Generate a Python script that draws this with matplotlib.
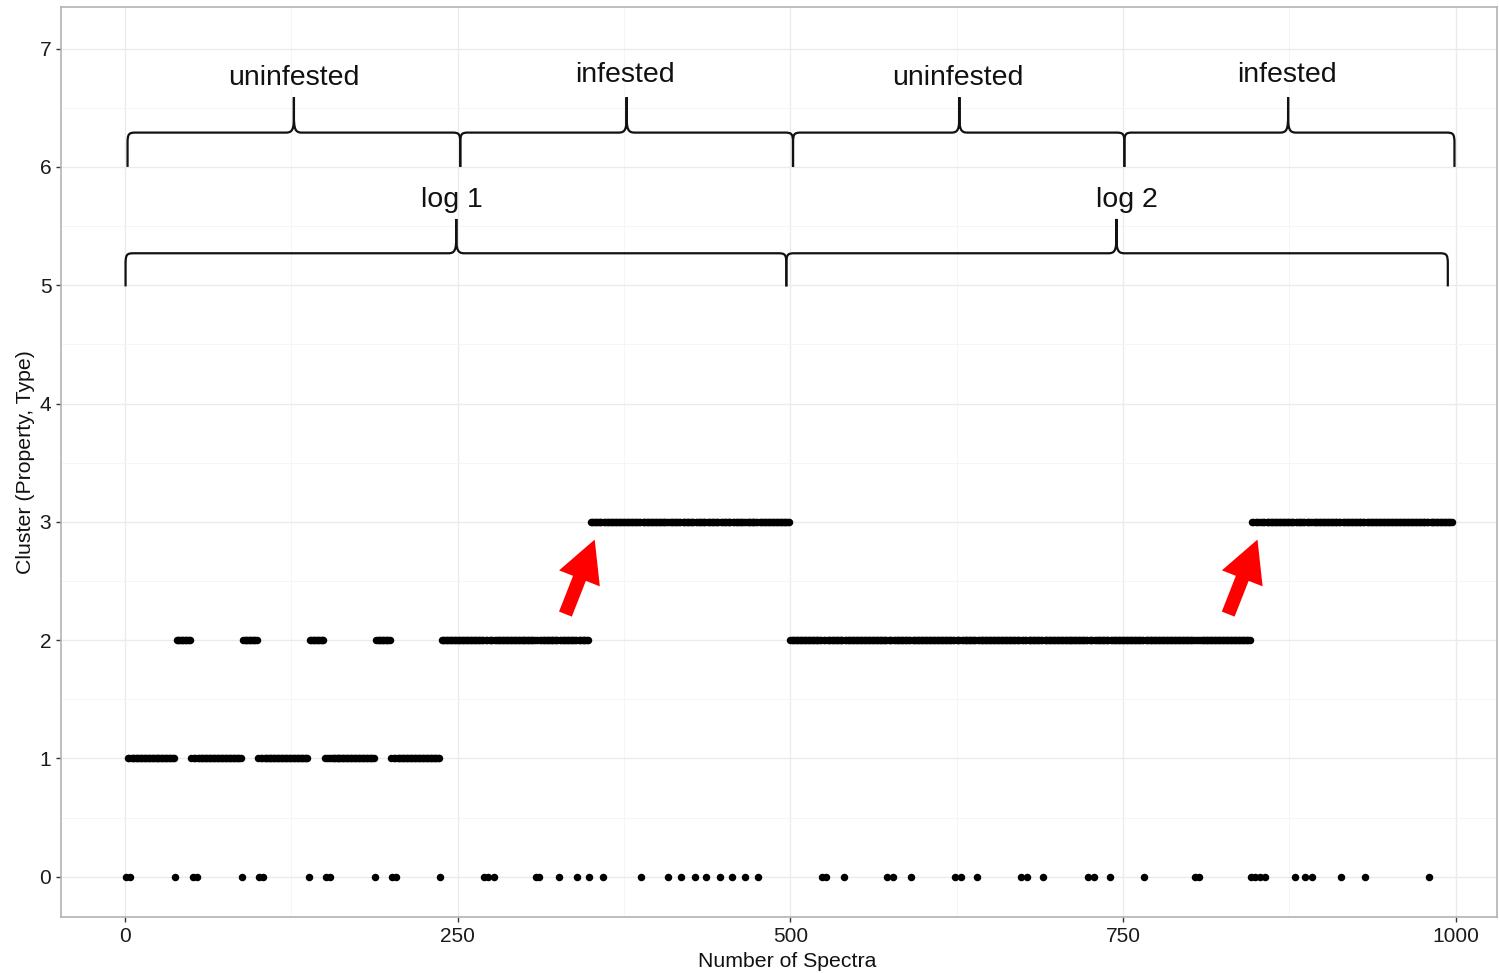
import numpy as np
import matplotlib
matplotlib.use('Agg')
import matplotlib.pyplot as plt
from matplotlib.path import Path
from matplotlib.patches import PathPatch

plt.rcParams['font.family'] = ['Liberation Sans', 'DejaVu Sans']

# cluster runs over the spectra: (first index, last index + 1, cluster)
run_starts = [1, 38, 50, 88, 100, 138, 150, 188, 200, 238, 350, 500, 847]
run_ends = [38, 50, 88, 100, 138, 150, 188, 200, 238, 350, 500, 847, 998]
run_cluster = [1, 2, 1, 2, 1, 2, 1, 2, 1, 2, 3, 2, 3]

# spectra that fell into cluster 0
zero_spectra = [1, 4, 38, 51, 54, 88, 101, 104, 138, 151, 154, 188, 201, 204,
                237, 270, 273, 277, 309, 311, 326, 340, 349, 359, 388, 408,
                418, 428, 437, 447, 456, 466, 476, 524, 527, 540, 573, 577,
                591, 624, 628, 640, 673, 678, 690, 724, 728, 740, 766, 804,
                807, 846, 849, 853, 857, 879, 887, 892, 914, 932, 980]

# upper braces (property) and lower braces (log)
prop_labels = ['uninfested', 'infested', 'uninfested', 'infested']
prop_left = [2, 252, 502, 751]
prop_right = [252, 502, 751, 999]
prop_tip = [127, 377, 627, 874]
prop_text_x = [127, 376, 626, 873]
prop_text_y = [6.75, 6.78, 6.75, 6.78]

log_labels = ['log 1', 'log 2']
log_left = [0.5, 497]
log_right = [497, 994]
log_tip = [249, 745]
log_text_x = [246, 753]

spectrum = np.arange(1, run_ends[-1])
cluster = np.zeros(len(spectrum), dtype=int)
for s, e, c in zip(run_starts, run_ends, run_cluster):
    cluster[s - 1:e - 1] = c
cluster[np.array(zero_spectra) - 1] = 0


def draw_brace(ax, x0, x1, xm, ybase, yh, ytip):
    dx, dy = 6, 0.09
    verts = [(x0, ybase), (x0, yh - dy),
             (x0, yh - 0.01), (x0 + 1, yh), (x0 + dx, yh),
             (xm - 6, yh),
             (xm - 1, yh), (xm, yh + 0.03), (xm, yh + 0.14),
             (xm, ytip),
             (xm, yh + 0.14),
             (xm, yh + 0.03), (xm + 1, yh), (xm + 6, yh),
             (x1 - dx, yh),
             (x1 - 1, yh), (x1, yh - 0.01), (x1, yh - dy),
             (x1, ybase)]
    codes = [Path.MOVETO, Path.LINETO,
             Path.CURVE4, Path.CURVE4, Path.CURVE4,
             Path.LINETO,
             Path.CURVE4, Path.CURVE4, Path.CURVE4,
             Path.LINETO, Path.LINETO,
             Path.CURVE4, Path.CURVE4, Path.CURVE4,
             Path.LINETO,
             Path.CURVE4, Path.CURVE4, Path.CURVE4,
             Path.LINETO]
    ax.add_patch(PathPatch(Path(verts, codes), fill=False, lw=1.6,
                           edgecolor='#111111', capstyle='butt', joinstyle='miter'))


fig = plt.figure(figsize=(14.99, 9.73), dpi=100)
ax = fig.add_axes([0.0407, 0.0576, 0.958, 0.935])

ax.plot(spectrum, cluster, 'o', ms=5.4, mew=0, color='black', zorder=3)

for x0, x1, xm in zip(prop_left, prop_right, prop_tip):
    draw_brace(ax, x0, x1, xm, 6.0, 6.29, 6.59)
for lab, tx, ty in zip(prop_labels, prop_text_x, prop_text_y):
    ax.text(tx, ty, lab, ha='center', va='center', fontsize=20.5, color='#111111')

for x0, x1, xm in zip(log_left, log_right, log_tip):
    draw_brace(ax, x0, x1, xm, 4.99, 5.27, 5.56)
for lab, tx in zip(log_labels, log_text_x):
    ax.text(tx, 5.72, lab, ha='center', va='center', fontsize=20.5, color='#111111')

# red arrows pointing at the jumps to cluster 3
for tail, tip in [((331, 2.22), (353, 2.85)), ((829, 2.22), (851, 2.85))]:
    ax.annotate('', xy=tip, xytext=tail,
                arrowprops=dict(arrowstyle='simple,head_length=1.0,head_width=1.05,tail_width=0.33',
                                mutation_scale=30, color='#ff0000', shrinkA=0, shrinkB=0, lw=0))

ax.set_xlim(-48, 1031)
ax.set_ylim(-0.34, 7.35)
ax.set_xticks([0, 250, 500, 750, 1000])
ax.set_xticks([125, 375, 625, 875], minor=True)
ax.set_yticks(range(8))
ax.set_yticks(np.arange(0.5, 7.5, 1), minor=True)
ax.grid(True, which='major', color='#ebebeb', lw=1.0)
ax.grid(True, which='minor', color='#f4f4f4', lw=0.6)
ax.set_axisbelow(True)
ax.tick_params(which='major', length=3.5, width=1, color='#333333',
               labelsize=15, labelcolor='#1a1a1a')
ax.tick_params(which='minor', length=0)
for sp in ax.spines.values():
    sp.set_color('#b3b3b3')
    sp.set_linewidth(1.2)

ax.set_xlabel('Number of Spectra', fontsize=15.3, color='#111111')
ax.xaxis.set_label_coords(0.506, -0.038)
ax.set_ylabel('Cluster (Property, Type)', fontsize=15.3, color='#111111', labelpad=3)

fig.savefig('out.png', dpi=100)
